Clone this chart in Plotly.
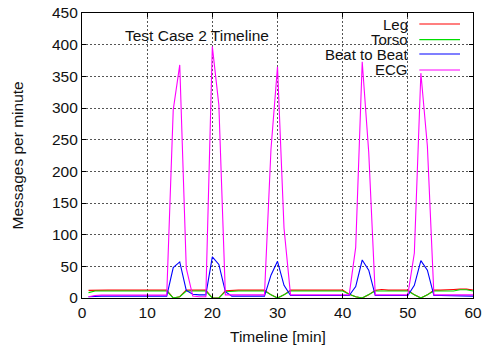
import plotly.graph_objects as go

minutes = list(range(1, 61))

leg = [12, 12.5, 12.5, 12.5, 12.5, 12.5, 12.5, 12.5, 12.5, 12.5,
       12.5, 12.5, 12.5, 0, 2, 12.5, 12.5, 12.5, 12.5, 0,
       0, 11.5, 12.5, 12.5, 12.5, 12.5, 12.5, 12.5, 5, 0,
       5, 12.5, 12.5, 12.5, 12.5, 12.5, 12.5, 12.5, 12.5, 12.5,
       6, 2, 0, 5, 12, 13.5, 12.5, 12.5, 12.5, 12.5,
       5, 0, 5, 12.5, 12.5, 12.5, 13.5, 14, 14, 12.5]

torso = [8.5, 11, 11, 11, 11, 11, 11, 11, 11, 11,
         11, 11, 11, 0, 2, 11, 11, 11, 11, 0,
         0, 10, 11, 11, 11, 11, 11, 11, 5, 0,
         5, 11, 11, 11, 11, 11, 11, 11, 11, 11,
         6, 2, 0, 5, 11, 11, 11, 11, 11, 11,
         5, 0, 5, 11, 11, 11, 11, 13, 13, 11]

beat_to_beat = [2, 3, 3, 3, 3, 3, 3, 3, 3, 3,
                3, 3, 3, 48, 57, 12, 6, 5, 5, 65,
                53, 10, 3, 3, 3, 3, 3, 3, 36, 58,
                20, 4, 4, 4, 4, 4, 4, 4, 4, 4,
                4, 18, 60, 44, 4, 4, 4, 4, 4, 4,
                20, 59, 44, 4, 4, 4, 4, 4, 4, 3]

ecg = [2, 4, 4.5, 4.5, 4.5, 4.5, 4.5, 4.5, 4.5, 4.5,
       4.5, 4.5, 4.5, 297, 368, 47, 3, 2, 2, 397,
       305, 5, 5, 5, 5, 5, 5, 5, 235, 365,
       110, 5, 5, 5, 5, 5, 5, 5, 5, 5,
       5, 80, 373, 230, 5, 5, 5, 5, 5, 5,
       71, 355, 240, 5, 5, 5, 5, 5, 5, 5]

series_names = ["Leg", "Torso", "Beat to Beat", "ECG"]
series_values = [leg, torso, beat_to_beat, ecg]
series_colors = ["#ff0000", "#00dd00", "#0000ff", "#ff00ff"]

x_ticks = [0, 10, 20, 30, 40, 50, 60]
y_ticks = [0, 50, 100, 150, 200, 250, 300, 350, 400, 450]

FONT = "Liberation Sans, Arial, sans-serif"
FS = 15.5
LFS = 15
TXT = "#111111"

fig = go.Figure()
for name, vals, col in zip(series_names, series_values, series_colors):
    fig.add_trace(go.Scatter(x=minutes, y=vals, mode="lines", name=name,
                             line=dict(color=col, width=1.1), showlegend=False))

shapes = [
    dict(type="rect", xref="paper", yref="paper", x0=0.5524, x1=1.0, y0=0.772, y1=1.0,
         fillcolor="white", line=dict(width=0), layer="between"),
    dict(type="rect", xref="paper", yref="paper", x0=0.102, x1=0.486, y0=0.897, y1=0.947,
         fillcolor="white", line=dict(width=0), layer="between"),
]
annotations = [
    dict(text="Test Case 2 Timeline", xref="paper", yref="paper", x=0.2941, y=0.9193,
         xanchor="center", yanchor="middle", showarrow=False, borderpad=0,
         font=dict(family=FONT, size=FS, color=TXT)),
    dict(text="Timeline [min]", xref="paper", yref="paper", x=0.5, y=-0.1368,
         xanchor="center", yanchor="middle", showarrow=False,
         font=dict(family=FONT, size=FS, color=TXT)),
    dict(text="Messages per minute", xref="paper", yref="paper", x=-0.1637, y=0.5,
         xanchor="center", yanchor="middle", showarrow=False, textangle=-90,
         font=dict(family=FONT, size=FS, color=TXT)),
]
row_y = [0.9614, 0.9063, 0.8561, 0.80]
for name, col, yy in zip(series_names, series_colors, row_y):
    annotations.append(dict(text=name, xref="paper", yref="paper", x=0.8363, y=yy,
                            xanchor="right", yanchor="middle", showarrow=False, borderpad=0,
                            font=dict(family=FONT, size=LFS, color=TXT)))
    shapes.append(dict(type="line", xref="paper", yref="paper", x0=0.8627, x1=0.9668,
                       y0=yy, y1=yy, line=dict(color=col, width=1.2), layer="above"))

axis_common = dict(
    showline=True, linecolor="black", linewidth=1.2, mirror="allticks",
    ticks="inside", ticklen=4, tickcolor="black", tickwidth=1,
    showgrid=True, gridcolor="#555555", griddash="2px,2px", gridwidth=1,
    zeroline=False, tickfont=dict(family=FONT, size=FS, color=TXT),
    automargin=False,
)

fig.update_layout(
    width=485, height=350,
    margin=dict(l=82, r=12, t=13, b=52),
    paper_bgcolor="white", plot_bgcolor="white",
    shapes=shapes, annotations=annotations,
    xaxis=dict(range=[0, 60], tickvals=x_ticks, **axis_common),
    yaxis=dict(range=[0, 450], tickvals=y_ticks, **axis_common),
)

fig.write_html("out.html", config={"displayModeBar": False},
               post_script="document.body.style.margin='0';document.body.style.padding='0';")
